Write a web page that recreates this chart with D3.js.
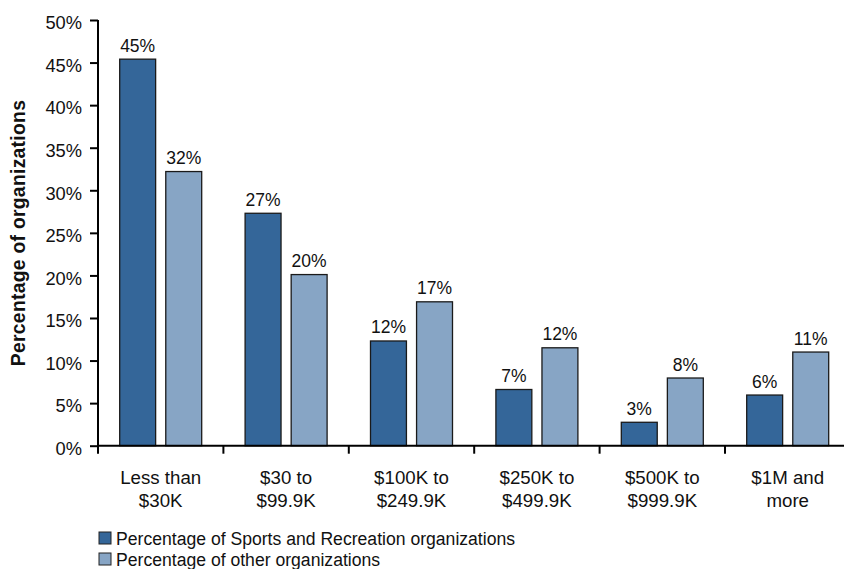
<!DOCTYPE html>
<html>
<head>
<meta charset="utf-8">
<script src="https://cdn.jsdelivr.net/npm/d3@7"></script>
<style>
  html, body { margin: 0; padding: 0; background: #fff; }
  svg { display: block; font-family: "Liberation Sans", Arial, Helvetica, sans-serif; }
</style>
</head>
<body>
<svg id="chart" width="844" height="569"></svg>
<script>
const categories = [["Less than", "$30K"], ["$30 to", "$99.9K"], ["$100K to", "$249.9K"], ["$250K to", "$499.9K"], ["$500K to", "$999.9K"], ["$1M and", "more"]];
const seriesNames = ["Percentage of Sports and Recreation organizations", "Percentage of other organizations"];
const sportsValues = [45.4, 27.3, 12.3, 6.6, 2.75, 5.95];
const otherValues = [32.2, 20.1, 16.9, 11.5, 7.95, 11.0];
const valueLabels = [["45%", "27%", "12%", "7%", "3%", "6%"], ["32%", "20%", "17%", "12%", "8%", "11%"]];
const yTicks = [0, 5, 10, 15, 20, 25, 30, 35, 40, 45, 50];
const colors = ["#346699", "#87a5c5"];

const svg = d3.select("#chart");
const mLeft = 98, mBottom = 445.7, mTop = 20, step = 125.4;
const catKeys = categories.map((c, i) => i);

const x0 = d3.scaleBand().domain(catKeys).range([mLeft, mLeft + step * categories.length]).paddingInner(0).paddingOuter(0);
const x1 = d3.scaleBand().domain([0, 1]).range([21.7, step - 21.7]).paddingInner(0.22).paddingOuter(0);
const y = d3.scaleLinear().domain([0, 50]).range([mBottom, mTop]);

const data = catKeys.map(i => ({ i, vals: [sportsValues[i], otherValues[i]] }));

// bars
const g = svg.append("g");
const groups = g.selectAll("g.grp").data(data).join("g")
  .attr("class", "grp")
  .attr("transform", d => `translate(${x0(d.i)},0)`);
groups.selectAll("rect").data(d => d.vals.map((v, s) => ({ v, s, i: d.i }))).join("rect")
  .attr("x", d => x1(d.s))
  .attr("y", d => y(d.v))
  .attr("width", x1.bandwidth())
  .attr("height", d => y(0) - y(d.v))
  .attr("fill", d => colors[d.s])
  .attr("stroke", "#1a1a1a")
  .attr("stroke-width", 1.3);
groups.selectAll("text.val").data(d => d.vals.map((v, s) => ({ v, s, i: d.i }))).join("text")
  .attr("class", "val")
  .attr("x", d => x1(d.s) + x1.bandwidth() / 2)
  .attr("y", d => y(d.v) - 7.5)
  .attr("text-anchor", "middle")
  .attr("font-size", 17.5)
  .attr("fill", "#111")
  .text(d => valueLabels[d.s][d.i]);

// y axis
const yAxis = d3.axisLeft(y).tickValues(yTicks).tickFormat(d => d + "%").tickSize(8).tickPadding(8);
const ya = svg.append("g").attr("transform", `translate(${mLeft},0)`).call(yAxis);
ya.select(".domain").attr("stroke", "#000").attr("stroke-width", 2).attr("d", `M0,${mTop}V${mBottom}`);
ya.selectAll(".tick line").attr("stroke", "#000").attr("stroke-width", 2);
ya.selectAll(".tick text").attr("font-size", 18.3).attr("font-family", "Liberation Sans, Arial, sans-serif").attr("fill", "#111").attr("dy", "0.48em");

// x axis
const xa = svg.append("g").attr("transform", `translate(0,${mBottom})`);
xa.append("line").attr("x1", mLeft - 1).attr("x2", 844).attr("y1", 0).attr("y2", 0).attr("stroke", "#000").attr("stroke-width", 2);
const boundaries = catKeys.map(i => x0(i));
xa.selectAll("line.tk").data(boundaries).join("line")
  .attr("class", "tk")
  .attr("x1", d => d).attr("x2", d => d).attr("y1", 0).attr("y2", 8)
  .attr("stroke", "#000").attr("stroke-width", 2);
const xl = xa.selectAll("text.cat").data(categories).join("text")
  .attr("class", "cat")
  .attr("text-anchor", "middle")
  .attr("font-size", 18.7)
  .attr("fill", "#111")
  .attr("transform", (d, i) => `translate(${x0(i) + step / 2},0)`);
xl.selectAll("tspan").data(d => d).join("tspan")
  .attr("x", 0)
  .attr("y", (d, k) => 38.5 + k * 22.8)
  .text(d => d);

// y title
svg.append("text")
  .attr("transform", `translate(25,233) rotate(-90)`)
  .attr("text-anchor", "middle")
  .attr("font-size", 19.3)
  .attr("letter-spacing", 0.3)
  .attr("font-weight", "bold")
  .attr("fill", "#111")
  .text("Percentage of organizations");

// legend
const leg = svg.append("g");
const li = leg.selectAll("g").data(seriesNames).join("g")
  .attr("transform", (d, i) => `translate(99,${532 + i * 21})`);
li.append("rect").attr("width", 12).attr("height", 12)
  .attr("fill", (d, i) => colors[i]).attr("stroke", "#222").attr("stroke-width", 1);
li.append("text").attr("x", 17).attr("y", 13).attr("font-size", 17.6).attr("fill", "#111").text(d => d);
</script>
</body>
</html>
